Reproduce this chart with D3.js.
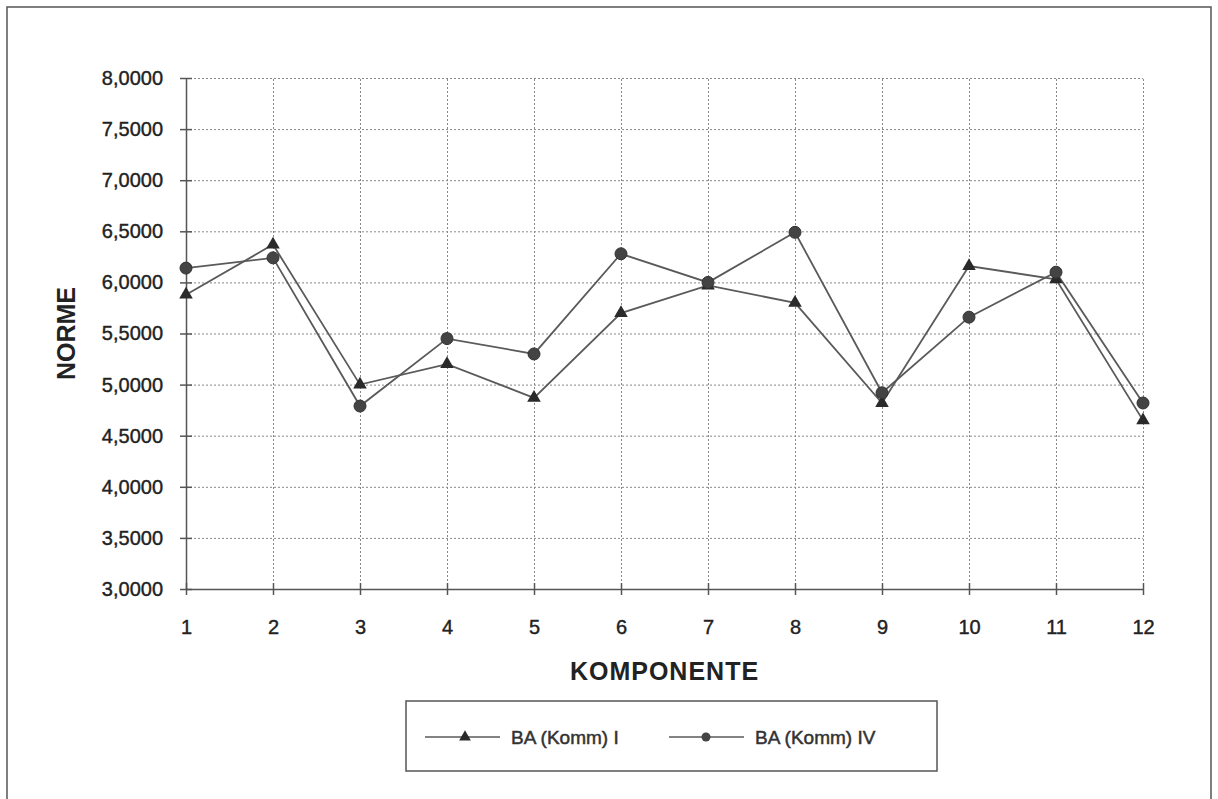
<!DOCTYPE html>
<html>
<head>
<meta charset="utf-8">
<script src="https://cdn.jsdelivr.net/npm/d3@7"></script>
<style>
  body { margin: 0; background: #fff; }
  svg { font-family: "Liberation Sans", Arial, sans-serif; }
  .grid line { stroke: #888; stroke-dasharray: 2,2; stroke-width: 1; }
  .grid path { display: none; }
  .axis path, .axis line { stroke: #555; stroke-width: 1.5; }
  .axis text { font-size: 20px; fill: #222; stroke: #222; stroke-width: 0.4; }
</style>
</head>
<body>
<div id="chart"></div>
<script>
const komponente = [1, 2, 3, 4, 5, 6, 7, 8, 9, 10, 11, 12];
const baKommI = [5.88, 6.37, 5.00, 5.20, 4.87, 5.70, 5.97, 5.80, 4.82, 6.16, 6.03, 4.65];
const baKommIV = [6.14, 6.24, 4.79, 5.45, 5.30, 6.28, 6.00, 6.49, 4.92, 5.66, 6.10, 4.82];
const yTicks = [3, 3.5, 4, 4.5, 5, 5.5, 6, 6.5, 7, 7.5, 8];
const seriesNames = ['BA (Komm) I', 'BA (Komm) IV'];

const width = 1218;
const height = 799;
const plotLeft = 186, plotRight = 1143, plotTop = 78, plotBottom = 589;

const svg = d3.select('#chart')
              .append('svg')
              .attr('width', width)
              .attr('height', height);

// outer frame
svg.append('rect')
   .attr('x', 7).attr('y', 7)
   .attr('width', 1204).attr('height', 800)
   .attr('fill', 'none')
   .attr('stroke', '#555')
   .attr('stroke-width', 1.5);

const x = d3.scaleLinear().domain([1, 12]).range([plotLeft, plotRight]);
const y = d3.scaleLinear().domain([3, 8]).range([plotBottom, plotTop]);

// grid
svg.append('g')
   .attr('class', 'grid')
   .attr('transform', `translate(0, ${plotBottom})`)
   .call(d3.axisBottom(x).tickValues(komponente).tickSize(-(plotBottom - plotTop)).tickFormat(() => ''));
svg.append('g')
   .attr('class', 'grid')
   .attr('transform', `translate(${plotLeft}, 0)`)
   .call(d3.axisLeft(y).tickValues(yTicks).tickSize(-(plotRight - plotLeft)).tickFormat(() => ''));

// axes (ticks cross the axis line)
const fmt = (d) => d3.format('.4f')(d).replace('.', ',');
const yAxis = svg.append('g')
   .attr('class', 'axis')
   .attr('transform', `translate(${plotLeft}, 0)`)
   .call(d3.axisLeft(y).tickValues(yTicks).tickSize(6).tickSizeOuter(0).tickPadding(17).tickFormat(fmt));
yAxis.selectAll('.tick line').attr('x2', 6).attr('x1', -6);

const xAxis = svg.append('g')
   .attr('class', 'axis')
   .attr('transform', `translate(0, ${plotBottom})`)
   .call(d3.axisBottom(x).tickValues(komponente).tickSize(6).tickSizeOuter(0).tickPadding(25).tickFormat(d3.format('d')));
xAxis.selectAll('.tick line').attr('y1', -6).attr('y2', 6);

// axis titles
svg.append('text')
   .attr('x', (plotLeft + plotRight) / 2).attr('y', 680)
   .attr('text-anchor', 'middle')
   .attr('font-size', 25).attr('font-weight', 'bold')
   .attr('letter-spacing', 1)
   .attr('fill', '#222')
   .text('KOMPONENTE');
svg.append('text')
   .attr('transform', `translate(75, ${(plotTop + plotBottom) / 2}) rotate(-90)`)
   .attr('text-anchor', 'middle')
   .attr('font-size', 25).attr('font-weight', 'bold')
   .attr('fill', '#222')
   .text('NORME');

// lines
const line = d3.line()
               .x((d, i) => x(komponente[i]))
               .y((d) => y(d));
const tri = d3.symbol().type(d3.symbolTriangle).size(80);

[baKommI, baKommIV].forEach((vals) => {
  svg.append('path')
     .attr('d', line(vals))
     .attr('fill', 'none')
     .attr('stroke', '#5a5a5a')
     .attr('stroke-width', 1.8);
});

svg.append('g').selectAll('path')
   .data(baKommI)
   .enter()
   .append('path')
   .attr('transform', (d, i) => `translate(${x(komponente[i])}, ${y(d)})`)
   .attr('d', tri)
   .attr('fill', '#2a2a2a');

svg.append('g').selectAll('circle')
   .data(baKommIV)
   .enter()
   .append('circle')
   .attr('cx', (d, i) => x(komponente[i]))
   .attr('cy', (d) => y(d))
   .attr('r', 6)
   .attr('fill', '#444')
   .attr('stroke', '#333');

// legend
const legend = svg.append('g');
legend.append('rect')
      .attr('x', 406).attr('y', 701)
      .attr('width', 531).attr('height', 70)
      .attr('fill', '#fff')
      .attr('stroke', '#555')
      .attr('stroke-width', 1.5);

const items = legend.selectAll('.item')
                    .data(seriesNames)
                    .enter()
                    .append('g')
                    .attr('transform', (d, i) => `translate(${i === 0 ? 425 : 669}, 737)`);
items.append('line')
     .attr('x1', 0).attr('x2', 75)
     .attr('stroke', '#5a5a5a').attr('stroke-width', 1.5);
items.filter((d, i) => i === 0)
     .append('path')
     .attr('transform', 'translate(40, 0)')
     .attr('d', d3.symbol().type(d3.symbolTriangle).size(60))
     .attr('fill', '#2a2a2a');
items.filter((d, i) => i === 1)
     .append('circle')
     .attr('cx', 37).attr('r', 4.5)
     .attr('fill', '#444');
items.append('text')
     .attr('x', 86).attr('dy', '0.35em')
     .attr('font-size', 19)
     .attr('fill', '#333')
     .attr('stroke', '#333').attr('stroke-width', 0.5)
     .text((d) => d);
</script>
</body>
</html>
